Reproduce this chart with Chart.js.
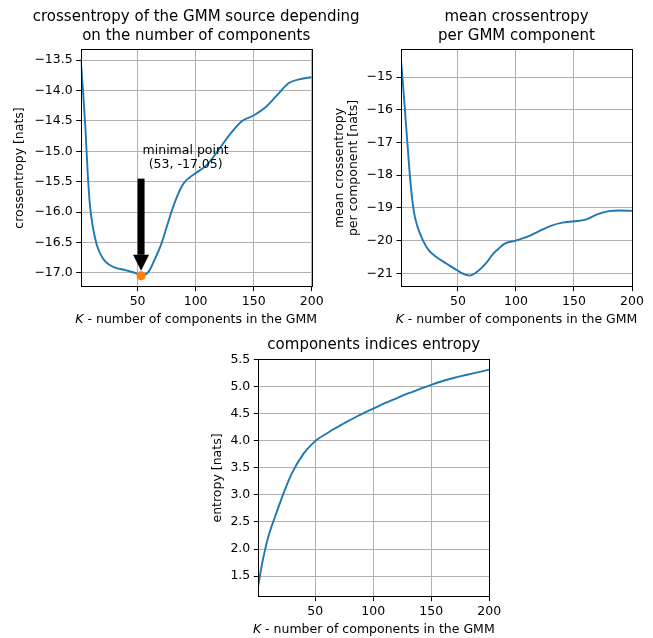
<!DOCTYPE html>
<html>
<head>
<meta charset="utf-8">
<script src="https://cdn.jsdelivr.net/npm/chart.js@4.4.1/dist/chart.umd.min.js"></script>
<style>
  body { margin: 0; background: #fff; overflow: hidden; width: 653px; height: 638px; position: relative; }
  canvas { position: absolute; }
</style>
</head>
<body>
<canvas id="chart-mean" width="327" height="330" style="left:326px;top:0px"></canvas>
<canvas id="chart-crossentropy" width="392" height="330" style="left:0px;top:0px"></canvas>
<canvas id="chart-entropy" width="348" height="308" style="left:200px;top:330px"></canvas>
<script>
// K values (number of GMM components) the curves were read at
var components = [1, 3, 5, 7, 9, 12, 15, 20, 25, 30, 40, 50, 53, 60, 65, 70, 75, 80, 85, 90,
  100, 110, 120, 130, 140, 150, 160, 170, 180, 190, 200];

var crossentropy = [-13.48, -14.0, -14.6, -15.35, -15.9, -16.3, -16.55, -16.76, -16.86, -16.91, -16.96, -17.02, -17.05, -16.97, -16.77, -16.55,
  -16.25, -15.95, -15.7, -15.52, -15.36, -15.22, -14.97, -14.71, -14.5, -14.41, -14.28, -14.08, -13.88, -13.81, -13.78];

var meanCrossentropy = [-14.47, -15.35, -16.3, -17.25, -18.16, -19.1, -19.55, -20.0, -20.3, -20.46, -20.7, -20.92, -20.99, -21.07, -20.99, -20.85,
  -20.66, -20.42, -20.25, -20.1, -20.0, -19.88, -19.71, -19.55, -19.45, -19.41, -19.36, -19.2, -19.1, -19.08, -19.09];

var indicesEntropy = [1.33, 1.58, 1.81, 2.0, 2.18, 2.39, 2.57, 2.87, 3.15, 3.4, 3.76, 3.99, 4.04, 4.13, 4.2, 4.26,
  4.32, 4.38, 4.435, 4.49, 4.59, 4.69, 4.78, 4.87, 4.95, 5.03, 5.1, 5.16, 5.21, 5.26, 5.31];

var minPointK = 53;
var minPointValue = -17.05;
var arrowStartValue = -15.45;

var kTicks = [50, 100, 150, 200];
var crossentropyTicks = [-17.0, -16.5, -16.0, -15.5, -15.0, -14.5, -14.0, -13.5];
var meanTicks = [-21, -20, -19, -18, -17, -16, -15];
var entropyTicks = [1.5, 2.0, 2.5, 3.0, 3.5, 4.0, 4.5, 5.0, 5.5];

var FONT = '"DejaVu Sans", "Liberation Sans", sans-serif';
Chart.defaults.font.family = FONT;
Chart.defaults.color = '#000';

var toPoints = function(values) {
  return components.map(function(k, i) { return {x: k, y: values[i]}; });
};

var fmt = function(decimals) {
  return function(v) { return Number(v).toFixed(decimals).replace('-', '\u2212'); };
};

// black frame round the plot area (matplotlib spines)
var frameBox = {
  id: 'frameBox',
  afterDatasetsDraw: function(chart) {
    var a = chart.chartArea, ctx = chart.ctx;
    ctx.save();
    ctx.strokeStyle = '#000';
    ctx.lineWidth = 1;
    ctx.strokeRect(Math.round(a.left) + 0.5, Math.round(a.top) + 0.5, Math.round(a.right - a.left), Math.round(a.bottom - a.top));
    ctx.restore();
  }
};

// title centred over the plot area, like matplotlib's ax.set_title
var panelTitle = {
  id: 'panelTitle',
  afterDraw: function(chart, args, opts) {
    var a = chart.chartArea, ctx = chart.ctx;
    ctx.save();
    ctx.fillStyle = '#000';
    ctx.font = '15px ' + FONT;
    ctx.textAlign = 'center';
    ctx.textBaseline = 'middle';
    opts.lines.forEach(function(line, i) {
      ctx.fillText(line, (a.left + a.right) / 2, opts.y + i * 19);
    });
    ctx.restore();
  }
};

// x axis label with italic K
var kLabel = {
  id: 'kLabel',
  afterDraw: function(chart, args, opts) {
    var a = chart.chartArea, ctx = chart.ctx;
    var italic = 'italic 12.5px ' + FONT;
    var normal = '12.5px ' + FONT;
    var rest = ' - number of components in the GMM';
    ctx.save();
    ctx.fillStyle = '#000';
    ctx.textBaseline = 'middle';
    ctx.font = italic;
    var w1 = ctx.measureText('K').width;
    ctx.font = normal;
    var w2 = ctx.measureText(rest).width;
    var x = (a.left + a.right) / 2 - (w1 + w2) / 2;
    var y = a.bottom + opts.offset;
    ctx.font = italic;
    ctx.fillText('K', x, y);
    ctx.font = normal;
    ctx.fillText(rest, x + w1, y);
    ctx.restore();
  }
};

// arrow + text pointing at the minimum
var minimalPoint = {
  id: 'minimalPoint',
  afterDatasetsDraw: function(chart) {
    var ctx = chart.ctx;
    var x = chart.scales.x.getPixelForValue(minPointK);
    var top = chart.scales.y.getPixelForValue(arrowStartValue);
    var tip = chart.scales.y.getPixelForValue(minPointValue) - 5;
    var headLen = 16, headHalf = 8;
    ctx.save();
    ctx.fillStyle = '#000';
    ctx.fillRect(x - 3.5, top, 7, tip - headLen - top);
    ctx.beginPath();
    ctx.moveTo(x - headHalf, tip - headLen);
    ctx.lineTo(x + headHalf, tip - headLen);
    ctx.lineTo(x, tip);
    ctx.closePath();
    ctx.fill();

    var lines = ['minimal point', '(' + minPointK + ', ' + minPointValue.toFixed(2) + ')'];
    ctx.font = '12.5px ' + FONT;
    ctx.textBaseline = 'middle';
    ctx.textAlign = 'center';
    var blockW = Math.max.apply(null, lines.map(function(l) { return ctx.measureText(l).width; }));
    var cx = x + 1.5 + blockW / 2;
    ctx.fillText(lines[0], cx, top - 28);
    ctx.fillText(lines[1], cx, top - 14);
    ctx.restore();
  }
};

var makeOptions = function(cfg) {
  return {
    responsive: false,
    animation: false,
    layout: { padding: { left: 0, top: cfg.padTop, right: cfg.padRight, bottom: 0 } },
    plugins: {
      legend: { display: false },
      tooltip: { enabled: false },
      title: { display: false },
      panelTitle: { lines: cfg.title, y: cfg.titleY },
      kLabel: { offset: 33.5 }
    },
    scales: {
      x: {
        type: 'linear',
        min: 1,
        max: 200,
        afterBuildTicks: function(scale) { scale.ticks = kTicks.map(function(v) { return {value: v}; }); },
        afterFit: function(scale) { scale.height = cfg.xHeight; },
        ticks: { color: '#000', font: { size: 12.5 }, padding: 3.5, maxRotation: 0, callback: function(v) { return String(v); } },
        grid: { color: '#b0b0b0', lineWidth: 1, tickColor: '#000', tickLength: 4.5 },
        border: { display: false }
      },
      y: {
        min: cfg.yMin,
        max: cfg.yMax,
        afterBuildTicks: function(scale) { scale.ticks = cfg.yTicks.map(function(v) { return {value: v}; }); },
        afterFit: function(scale) { scale.width = cfg.yWidth; },
        ticks: { color: '#000', font: { size: 12.5 }, padding: 3.5, callback: fmt(cfg.decimals) },
        grid: { color: '#b0b0b0', lineWidth: 1, tickColor: '#000', tickLength: 4.5 },
        border: { display: false },
        title: {
          display: true,
          text: cfg.yTitle,
          color: '#000',
          font: { size: 12.5, lineHeight: cfg.yTitleLineHeight || 1.2 },
          padding: { top: cfg.yTitlePad, bottom: 0 }
        }
      }
    }
  };
};

var lineDataset = function(values) {
  return {
    data: toPoints(values),
    borderColor: '#1f77b4',
    borderWidth: 1.9,
    pointRadius: 0,
    cubicInterpolationMode: 'monotone',
    fill: false,
    order: 1
  };
};

new Chart(document.getElementById('chart-crossentropy').getContext('2d'), {
  type: 'line',
  data: {
    datasets: [
      {
        data: [{x: minPointK, y: minPointValue}],
        showLine: false,
        pointRadius: 4.5,
        pointBackgroundColor: '#ff7f0e',
        pointBorderWidth: 0,
        order: 0
      },
      lineDataset(crossentropy)
    ]
  },
  options: makeOptions({
    title: ['crossentropy of the GMM source depending', 'on the number of components'],
    titleY: 17.5,
    padTop: 49.3,
    padRight: 80.3,
    xHeight: 43.3,
    yWidth: 80.7,
    yMin: -17.23,
    yMax: -13.32,
    yTicks: crossentropyTicks,
    decimals: 1,
    yTitle: 'crossentropy [nats]',
    yTitlePad: 12.5
  }),
  plugins: [frameBox, panelTitle, kLabel, minimalPoint]
});

new Chart(document.getElementById('chart-mean').getContext('2d'), {
  type: 'line',
  data: { datasets: [lineDataset(meanCrossentropy)] },
  options: makeOptions({
    title: ['mean crossentropy', 'per GMM component'],
    titleY: 17.5,
    padTop: 49.3,
    padRight: 21,
    xHeight: 43.3,
    yWidth: 75,
    yMin: -21.41,
    yMax: -14.15,
    yTicks: meanTicks,
    decimals: 0,
    yTitle: ['mean crossentropy', 'per component [nats]'],
    yTitleLineHeight: 1.12,
    yTitlePad: 7
  }),
  plugins: [frameBox, panelTitle, kLabel]
});

new Chart(document.getElementById('chart-entropy').getContext('2d'), {
  type: 'line',
  data: { datasets: [lineDataset(indicesEntropy)] },
  options: makeOptions({
    title: ['components indices entropy'],
    titleY: 15,
    padTop: 29.3,
    padRight: 58.7,
    xHeight: 41.3,
    yWidth: 58.3,
    yMin: 1.12,
    yMax: 5.5,
    yTicks: entropyTicks,
    decimals: 1,
    yTitle: 'entropy [nats]',
    yTitlePad: 10.5
  }),
  plugins: [frameBox, panelTitle, kLabel]
});
</script>
</body>
</html>
